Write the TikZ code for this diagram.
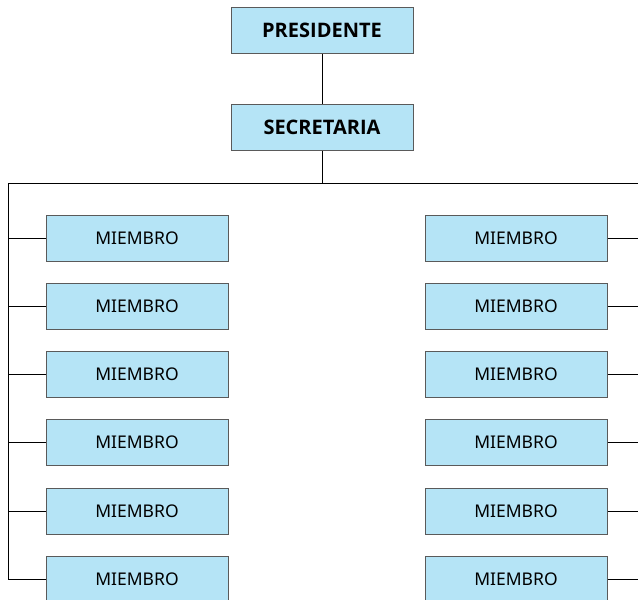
\documentclass[tikz,border=0pt]{standalone}
\usepackage{fontspec}
\setmainfont{Noto Sans}
\newfontfamily\jefefont{Open Sans}
\definecolor{boxfill}{HTML}{B5E4F6}
\definecolor{boxline}{HTML}{5A5A5A}
\tikzset{
  cargo/.style={draw=boxline,fill=boxfill,line width=1pt,minimum width=182pt,minimum height=46pt,inner sep=0pt,font=\fontsize{17.5}{20}\selectfont},
  jefe/.style={cargo,font=\jefefont\bfseries\fontsize{20}{22}\selectfont},
  linea/.style={draw=black,line width=1pt}
}
\begin{document}
\begin{tikzpicture}[x=1pt,y=-1pt]
\useasboundingbox (0,0) rectangle (638,600);
       \node [jefe] at (322,30) (pres) {PRESIDENTE};
       \node [jefe] at (322,127) (secr) {SECRETARIA};
%
          \node [cargo] at (137,238) (m1) {MIEMBRO};
          \node [cargo] at (137,306) (m2) {MIEMBRO};
          \node [cargo] at (137,374) (m3) {MIEMBRO};
          \node [cargo] at (137,442) (m4) {MIEMBRO};
          \node [cargo] at (137,511) (m5) {MIEMBRO};
          \node [cargo] at (137,579) (m6) {MIEMBRO};
%
          \node [cargo] at (516,238) (n1) {MIEMBRO};
          \node [cargo] at (516,306) (n2) {MIEMBRO};
          \node [cargo] at (516,374) (n3) {MIEMBRO};
          \node [cargo] at (516,442) (n4) {MIEMBRO};
          \node [cargo] at (516,511) (n5) {MIEMBRO};
          \node [cargo] at (516,579) (n6) {MIEMBRO};
%
       \coordinate (bus) at (322,183);
       \coordinate (izq) at (8,183);
       \coordinate (der) at (638,183);
       \coordinate (izq fin) at (8,579);
%
\path[linea] (pres) -- (secr);
\path[linea] (secr) -- (bus);
\path[linea] (der) -- (izq) -- (izq fin) -- (m6);
%
\path[linea] (m1.west) -- (m1.west -| izq);
\path[linea] (m2.west) -- (m2.west -| izq);
\path[linea] (m3.west) -- (m3.west -| izq);
\path[linea] (m4.west) -- (m4.west -| izq);
\path[linea] (m5.west) -- (m5.west -| izq);
%
\path[linea] (n1.east) -- (n1.east -| der);
\path[linea] (n2.east) -- (n2.east -| der);
\path[linea] (n3.east) -- (n3.east -| der);
\path[linea] (n4.east) -- (n4.east -| der);
\path[linea] (n5.east) -- (n5.east -| der);
\path[linea] (n6.east) -- (n6.east -| der);

\end{tikzpicture}
\end{document}
